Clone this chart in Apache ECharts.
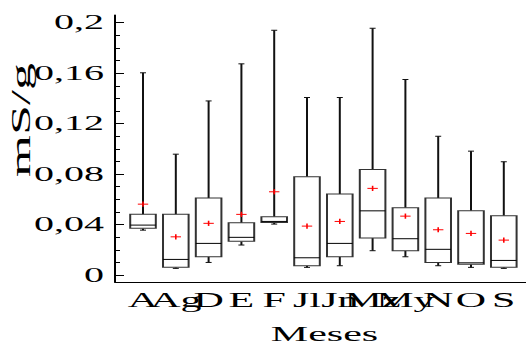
<!DOCTYPE html>
<html>
<head>
<meta charset="utf-8">
<script src="https://cdn.jsdelivr.net/npm/echarts@6/dist/echarts.min.js"></script>
<style>
  html, body { margin: 0; padding: 0; background: #fff; overflow: hidden; }
  /* the chart is laid out at half width and stretched horizontally */
  #chart { width: 263px; height: 347px; transform: scaleX(2); transform-origin: 0 0; }
</style>
</head>
<body>
<div id="chart"></div>
<script>
// Monthly conductivity (mS/g): whisker ends, quartiles, median and mean
const months      = ['A', 'Ag', 'D', 'E', 'F', 'Jl', 'Jn', 'Mz', 'My', 'N', 'O', 'S'];
const whiskerLow  = [0.0356, 0.0053, 0.0100, 0.0238, 0.0404, 0.0061, 0.0074, 0.0193, 0.0145, 0.0074, 0.0061, 0.0053];
const quartile1   = [0.0370, 0.0061, 0.0145, 0.0267, 0.0417, 0.0074, 0.0145, 0.0293, 0.0193, 0.0100, 0.0085, 0.0061];
const medians     = [0.0396, 0.0124, 0.0251, 0.0299, 0.0425, 0.0137, 0.0251, 0.0509, 0.0288, 0.0204, 0.0097, 0.0116];
const quartile3   = [0.0481, 0.0481, 0.0610, 0.0414, 0.0462, 0.0779, 0.0642, 0.0837, 0.0533, 0.0610, 0.0509, 0.0470];
const whiskerHigh = [0.1603, 0.0958, 0.1380, 0.1674, 0.1940, 0.1407, 0.1407, 0.1956, 0.1550, 0.1100, 0.0982, 0.0898];
const means       = [0.0562, 0.0303, 0.0410, 0.0481, 0.0660, 0.0388, 0.0425, 0.0687, 0.0467, 0.0359, 0.0330, 0.0277];

const majorTicks = [0, 0.04, 0.08, 0.12, 0.16, 0.2];
const minorTicks = [0.01, 0.02, 0.03, 0.05, 0.06, 0.07, 0.09, 0.10, 0.11,
                    0.13, 0.14, 0.15, 0.17, 0.18, 0.19];

const FONT = 'Liberation Serif';
const X_MIN = -0.854, X_MAX = 11.677;
const Y_MIN = -0.0055, Y_MAX = 0.2061;

const boxData = months.map((m, i) => [
  i, whiskerLow[i], quartile1[i], medians[i], quartile3[i], whiskerHigh[i], means[i]
]);

function renderBox(params, api) {
  const x = api.value(0);
  const pLow  = api.coord([x, api.value(1)]);
  const pQ1   = api.coord([x, api.value(2)]);
  const pMed  = api.coord([x, api.value(3)]);
  const pQ3   = api.coord([x, api.value(4)]);
  const pHigh = api.coord([x, api.value(5)]);
  const pMean = api.coord([x, api.value(6)]);
  const cx = pMed[0];
  const halfBox = 6.4, halfCap = 1.5, halfPlusW = 2.6, halfPlusH = 2.6;
  const ink = { stroke: '#111', lineWidth: 1, fill: null };
  const line = (x1, y1, x2, y2, style) => ({
    type: 'line', shape: { x1, y1, x2, y2 }, style
  });
  return {
    type: 'group',
    children: [
      line(cx, pHigh[1], cx, pQ3[1], ink),
      line(cx, pQ1[1], cx, pLow[1], ink),
      line(cx - halfCap, pHigh[1], cx + halfCap, pHigh[1], ink),
      line(cx - halfCap, pLow[1], cx + halfCap, pLow[1], ink),
      {
        type: 'rect',
        shape: { x: cx - halfBox, y: pQ3[1], width: halfBox * 2, height: pQ1[1] - pQ3[1] },
        style: { stroke: '#333', lineWidth: 1, fill: '#fff' }
      },
      line(cx - halfBox, pMed[1], cx + halfBox, pMed[1], { stroke: '#000', lineWidth: 1 }),
      line(cx - halfPlusW, pMean[1], cx + halfPlusW, pMean[1], { stroke: '#ff0000', lineWidth: 1 }),
      line(cx, pMean[1] - halfPlusH, cx, pMean[1] + halfPlusH, { stroke: '#ff0000', lineWidth: 0.8 })
    ]
  };
}

// month labels alternate between two bottom axes so that neighbours can overlap freely
const labelStyle = {
  fontFamily: FONT,
  fontSize: 21,
  color: '#000',
  margin: 7,
  hideOverlap: false,
  formatter: v => months[Math.round(v)]
};
const evenIdx = months.map((m, i) => i).filter(i => i % 2 === 0);
const oddIdx  = months.map((m, i) => i).filter(i => i % 2 === 1);

const chart = echarts.init(document.getElementById('chart'), null, { renderer: 'svg' });

chart.setOption({
  animation: false,
  backgroundColor: '#fff',
  grid: { left: 57.5, right: 0, top: 15, bottom: 65, containLabel: false, outerBoundsMode: 'none' },
  xAxis: [
    {
      type: 'value',
      min: X_MIN,
      max: X_MAX,
      name: 'Meses',
      nameLocation: 'middle',
      nameGap: 41,
      nameTextStyle: { fontFamily: FONT, fontSize: 21, color: '#000', padding: [0, 0, 0, 4] },
      axisLine: { show: true, onZero: false, lineStyle: { color: '#000', width: 1 } },
      axisTick: { show: false },
      splitLine: { show: false },
      axisLabel: Object.assign({ customValues: evenIdx }, labelStyle)
    },
    {
      type: 'value',
      min: X_MIN,
      max: X_MAX,
      position: 'bottom',
      axisLine: { show: false, onZero: false },
      axisTick: { show: false },
      splitLine: { show: false },
      axisLabel: Object.assign({ customValues: oddIdx }, labelStyle)
    }
  ],
  yAxis: [
    {
      type: 'value',
      min: Y_MIN,
      max: Y_MAX,
      axisLine: { show: true, onZero: false, lineStyle: { color: '#000', width: 1 } },
      axisTick: { show: true, inside: true, length: 4.5, customValues: majorTicks,
                  lineStyle: { color: '#000', width: 1 } },
      splitLine: { show: false },
      axisLabel: {
        customValues: majorTicks,
        formatter: v => (v === 0 ? '0' : String(+v.toFixed(2)).replace('.', ',')),
        fontFamily: FONT,
        fontSize: 20,
        color: '#000',
        margin: 5.5,
        hideOverlap: false
      }
    },
    {
      // minor ticks between the labelled values
      type: 'value',
      min: Y_MIN,
      max: Y_MAX,
      position: 'left',
      axisLine: { show: false, onZero: false },
      axisTick: { show: true, inside: true, length: 2.5, customValues: minorTicks,
                  lineStyle: { color: '#000', width: 1 } },
      axisLabel: { show: false },
      splitLine: { show: false }
    }
  ],
  series: [{
    type: 'custom',
    renderItem: renderBox,
    xAxisIndex: 0,
    yAxisIndex: 0,
    encode: { x: 0, y: [1, 2, 3, 4, 5, 6] },
    data: boxData,
    z: 3
  }],
  graphic: [{
    type: 'text',
    x: 10.5,
    y: 120,
    rotation: Math.PI / 2,
    scaleX: 2,
    scaleY: 0.5,
    z: 100,
    style: {
      text: 'mS/g',
      font: '27px "Liberation Serif"',
      fill: '#000',
      align: 'center',
      verticalAlign: 'middle'
    }
  }]
});
</script>
</body>
</html>
